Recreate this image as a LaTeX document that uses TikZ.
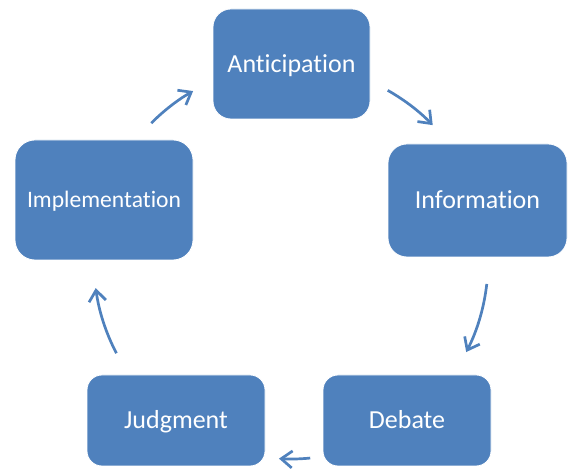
\documentclass[tikz,border=0pt]{standalone}
\usepackage{fontspec}
\setmainfont[Ligatures=NoCommon]{Carlito}
\usetikzlibrary{arrows.meta,calc}
\definecolor{stageblue}{HTML}{4F81BD}
\begin{document}
\begin{tikzpicture}[
  stagebox/.style={rectangle, rounded corners=#1, fill=stageblue, draw=white, line width=0.8pt,
    text=white, inner sep=0pt, anchor=center, text depth=0pt},
  bigtext/.style={font=\fontsize{26}{30}\selectfont, text height=16.7pt},
  smalltext/.style={font=\fontsize{23.6}{28}\selectfont, text height=15.2pt},
  cyc/.style={draw=stageblue, line width=2.7pt,
    -{Straight Barb[length=11pt, width=17pt, line width=2.7pt]}}
]
\useasboundingbox (0pt,0pt) rectangle (569pt,470pt);

% the five stages
\node[stagebox=18pt, bigtext, minimum width=157pt, minimum height=110pt] (ant) at (291.5pt,406pt) {Anticipation};
\node[stagebox=19pt, bigtext, minimum width=179pt, minimum height=113pt] (inf) at (477.5pt,269.5pt) {Information};
\node[stagebox=15pt, bigtext, minimum width=168pt, minimum height=91pt] (deb) at (407pt,49.5pt) {Debate};
\node[stagebox=15pt, bigtext, minimum width=178pt, minimum height=91pt] (jud) at (176pt,49.5pt) {Judgment};
\node[stagebox=20pt, smalltext, minimum width=178pt, minimum height=120pt] (imp) at (104pt,270pt) {Implementation};

% the cycle arrows run along one circle
\coordinate (ctr) at (291pt,208pt);
\coordinate (s1) at ($(ctr)+(60.6:197pt)$);
\coordinate (s2) at ($(ctr)+(-6.4:197pt)$);
\coordinate (s3) at ($(ctr)+(-84.4:197pt)$);
\coordinate (s4) at ($(ctr)+(207.6:197pt)$);
\coordinate (s5) at ($(ctr)+(135.2:197pt)$);

\draw[cyc] (s1) arc[start angle=60.6, end angle=44, radius=197pt];
\draw[cyc] (s2) arc[start angle=-6.4, end angle=-27.2, radius=197pt];
\draw[cyc] (s3) arc[start angle=-84.4, end angle=-93.5, radius=197pt];
\draw[cyc] (s4) arc[start angle=207.6, end angle=187.6, radius=197pt];
\draw[cyc] (s5) arc[start angle=135.2, end angle=119.8, radius=197pt];
\end{tikzpicture}
\end{document}
